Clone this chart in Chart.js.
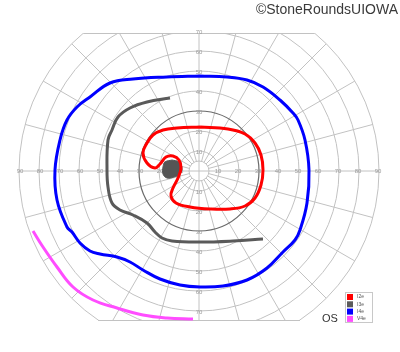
<!DOCTYPE html>
<html>
<head>
<meta charset="utf-8">
<title>Goldmann visual field OS</title>
<script src="https://cdn.jsdelivr.net/npm/chart.js@4/dist/chart.umd.min.js"></script>
<style>
  body { margin: 0; background: #fff; }
</style>
</head>
<body>
<canvas id="field" width="400" height="352"></canvas>
<script>
// isopters (stimulus names) and their colours
const isopters = ['I2e', 'I3e', 'I4e', 'V4e'];
const colors = ['#ff0000', '#5a5a5a', '#0000ff', '#ff4dff'];

// traced isopters, in degrees (x: left/right of fixation, y: up/down)
const i2eX = [0.5, -11, -18, -23, -26, -28, -26, -22, -19.5, -16.5, -13, -10, -9, -10.5, -13, -14, -11.5, -4.5, 5.5, 15.5, 23, 28, 31, 32, 31, 28, 23, 14.5, 0.5];
const i2eY = [22, 21.5, 20.5, 18, 14, 9, 4, 1.5, 3.5, 7, 7.5, 5.5, 1.5, -3.5, -8.5, -12.5, -16, -18, -19, -19, -17.5, -13.5, -7, 0.5, 8, 14, 18.5, 21, 22];

const i3eX = [-14.5, -26, -34.5, -40.5, -43.5, -45.5, -46, -45.5, -43.5, -39.5, -33, -26, -22, -18.5, -13.5, 0.5, 17, 32];
const i3eY = [36.5, 34.5, 31.5, 27, 20.5, 15.5, 0.5, -8, -16, -19.5, -22, -26, -30.5, -33.5, -35, -35.5, -35, -34];

const i4eX = [0.5, 14, 24, 32, 40.5, 47, 49.5, 53, 55, 54, 50.5, 48, 42, 34, 24, 12, 0.5, -9.5, -19.5, -28, -34.5, -41, -49.5, -54.5, -59.5, -63.5, -66, -71, -72, -69.5, -66, -61, -54.5, -44.5, -33, -16, 0.5];
const i4eY = [47.5, 47, 45.5, 42, 35.5, 29, 25.5, 15.5, 0.5, -16, -29.5, -34.5, -40.5, -48.5, -54.5, -57.5, -58, -57, -54, -49.5, -45.5, -43, -41.5, -40, -36, -30.5, -28, -14.5, 0.5, 15.5, 25.5, 32, 37, 44, 46, 47, 47.5];

const v4eX = [-83, -78, -71, -63, -53, -41, -28, -16, -3];
const v4eY = [-30, -38, -48, -58, -64.5, -68.5, -72, -73.5, -74];

// blind spot (scotoma)
const blindX = [-13.5, -10, -8.5, -9.5, -12.5, -16, -18, -18, -17, -13.5];
const blindY = [5.5, 4.5, 1.5, -1.5, -3, -3.5, -1.5, 2, 4.5, 5.5];

// grid rings and tick labels (degrees)
const rings = [5, 10, 20, 30, 40, 50, 60, 70, 80, 90];
const hTicks = [10, 20, 30, 40, 50, 60, 70, 80, 90];
const vTicks = [10, 20, 30, 40, 50, 60, 70];

function toPoints(xs, ys) {
  return xs.map((x, i) => ({ x: x, y: ys[i] }));
}

const traces = [[i2eX, i2eY], [i3eX, i3eY], [i4eX, i4eY], [v4eX, v4eY]];

const datasets = traces.map((t, i) => ({
  label: isopters[i],
  data: toPoints(t[0], t[1]),
  showLine: true,
  borderColor: colors[i],
  backgroundColor: colors[i],
  borderWidth: 3,
  pointRadius: 0,
  tension: 0.4,
  fill: false
}));

datasets.push({
  label: 'blind spot',
  data: toPoints(blindX, blindY),
  showLine: true,
  borderColor: '#555555',
  backgroundColor: '#555555',
  borderWidth: 1,
  pointRadius: 0,
  tension: 0.4,
  fill: 'shape'
});

// polar grid of the perimetry chart, drawn through the chart scales
const polarGrid = {
  id: 'polarGrid',
  beforeDatasetsDraw(chart) {
    const { ctx } = chart;
    const x = chart.scales.x, y = chart.scales.y;
    const cx = x.getPixelForValue(0), cy = y.getPixelForValue(0);
    const rad = d => x.getPixelForValue(d) - cx;
    const top = y.getPixelForValue(69), bottom = y.getPixelForValue(-74.5);
    const R = rad(90);

    ctx.save();
    ctx.beginPath();
    ctx.rect(0, top, chart.width, bottom - top);
    ctx.clip();

    ctx.strokeStyle = '#c2c2c2';
    ctx.lineWidth = 1;
    // spokes every 15 degrees
    for (let a = 0; a < 360; a += 15) {
      const t = a * Math.PI / 180;
      const r0 = (a % 90 === 0) ? 0 : rad(5);
      ctx.beginPath();
      ctx.moveTo(cx + r0 * Math.cos(t), cy - r0 * Math.sin(t));
      ctx.lineTo(cx + R * Math.cos(t), cy - R * Math.sin(t));
      ctx.stroke();
    }
    // rings
    rings.forEach(v => {
      ctx.beginPath();
      ctx.arc(cx, cy, rad(v), 0, Math.PI * 2);
      if (v === 30) {
        ctx.strokeStyle = '#6a6a6a';
        ctx.lineWidth = 1.2;
      } else {
        ctx.strokeStyle = '#c2c2c2';
        ctx.lineWidth = 1;
      }
      ctx.stroke();
    });
    ctx.restore();

    // top and bottom chords
    ctx.save();
    ctx.strokeStyle = '#c2c2c2';
    ctx.lineWidth = 1;
    [top, bottom].forEach(py => {
      const dy = py - cy;
      const half = Math.sqrt(R * R - dy * dy);
      ctx.beginPath();
      ctx.moveTo(cx - half, Math.round(py) + 0.5);
      ctx.lineTo(cx + half, Math.round(py) + 0.5);
      ctx.stroke();
    });

    // tick labels on the axes
    ctx.font = '6px "Liberation Sans", Arial, sans-serif';
    ctx.fillStyle = '#9a9a9a';
    ctx.textAlign = 'center';
    ctx.textBaseline = 'middle';
    hTicks.forEach(v => {
      const r = rad(v) - 1;
      ctx.fillText(String(v), cx - r, cy);
      ctx.fillText(String(v), cx + r, cy);
    });
    vTicks.forEach(v => {
      const r = rad(v) + 1;
      ctx.fillText(String(v), cx, cy - r + 2);
      ctx.fillText(String(v), cx, cy + r);
    });
    ctx.restore();
  },
  afterDraw(chart) {
    const { ctx } = chart;
    ctx.save();
    // eye label
    ctx.font = '11px "Liberation Sans", Arial, sans-serif';
    ctx.fillStyle = '#333';
    ctx.textAlign = 'left';
    ctx.textBaseline = 'alphabetic';
    ctx.fillText('OS', 322, 322);

    // legend box
    ctx.fillStyle = '#fff';
    ctx.fillRect(345.5, 292.5, 27, 30);
    ctx.strokeStyle = '#c8c8c8';
    ctx.lineWidth = 1;
    ctx.strokeRect(345.5, 292.5, 27, 30);
    ctx.font = '5px "Liberation Sans", Arial, sans-serif';
    ctx.textBaseline = 'middle';
    isopters.forEach((name, i) => {
      const yy = 296.5 + i * 7.3;
      ctx.fillStyle = colors[i];
      ctx.fillRect(347, yy - 2.5, 6, 6);
      ctx.fillStyle = '#555';
      ctx.fillText(name, 357, yy + 0.5);
    });

    // credit
    ctx.font = '14px "Liberation Sans", Arial, sans-serif';
    ctx.textAlign = 'right';
    ctx.textBaseline = 'middle';
    ctx.fillStyle = '#3a3a3a';
    ctx.fillText('\u00A9StoneRoundsUIOWA', 398, 10);
    ctx.restore();
  }
};

new Chart(document.getElementById('field'), {
  type: 'scatter',
  data: { datasets: datasets },
  options: {
    responsive: false,
    animation: false,
    layout: { padding: 0 },
    scales: {
      x: { type: 'linear', display: false, min: -99.5, max: 100.5, bounds: 'data' },
      y: { type: 'linear', display: false, min: -90.5, max: 85.5, bounds: 'data' }
    },
    plugins: {
      legend: { display: false },
      tooltip: { enabled: false }
    }
  },
  plugins: [polarGrid]
});
</script>
</body>
</html>
